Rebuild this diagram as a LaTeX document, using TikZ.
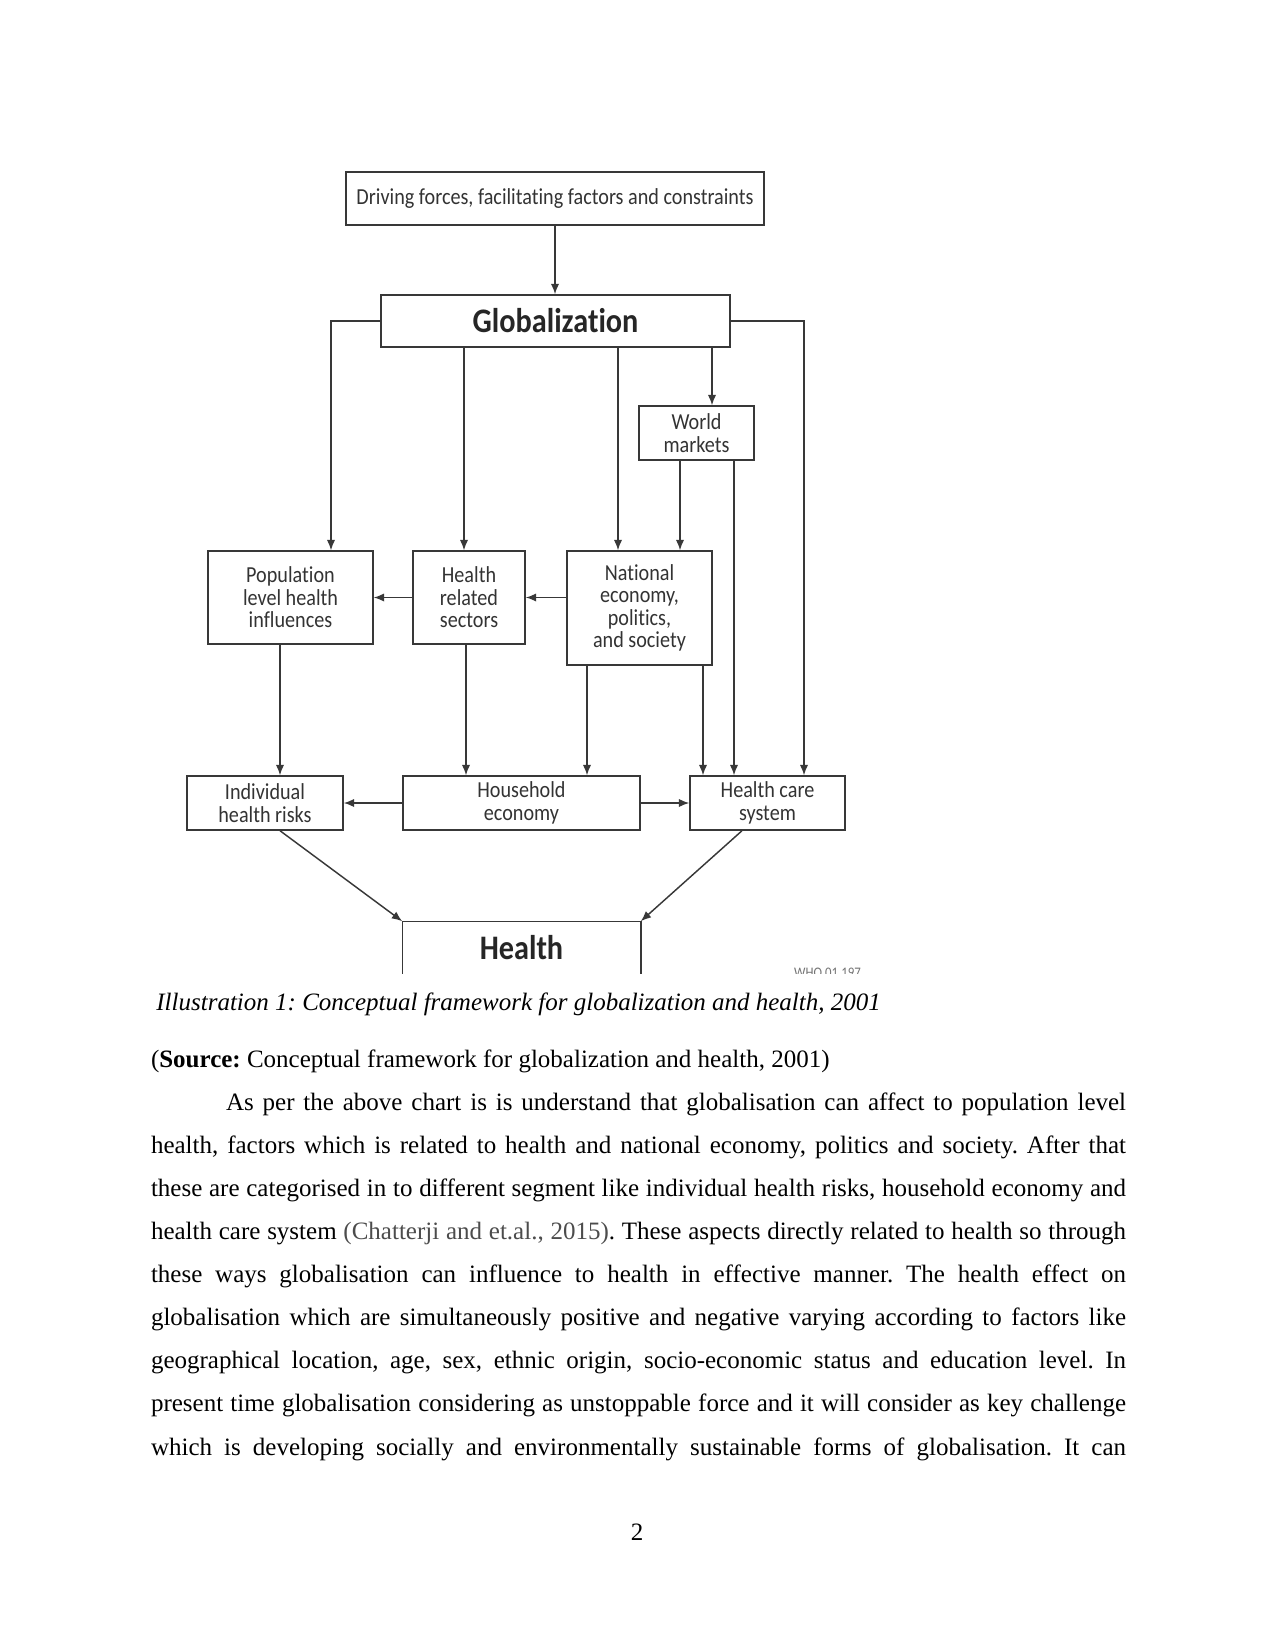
\documentclass[tikz,border=0pt]{standalone}
\usepackage{fontspec}
\setmainfont{Liberation Serif}
\newfontfamily\diagfont[FakeStretch=0.88, Ligatures=NoCommon]{Carlito}
\usetikzlibrary{arrows.meta, positioning, calc}
\definecolor{diagline}{gray}{0.22}
\definecolor{diagtext}{gray}{0.2}
\definecolor{citegray}{gray}{0.3}
\frenchspacing

\begin{document}
\begin{tikzpicture}[
  x=0.48pt, y=-0.48pt,
  box/.style={draw=diagline, line width=0.7pt, align=center, inner sep=0pt, text=diagtext, font=\diagfont\fontsize{11}{10.8}\selectfont},
  bigbox/.style={box, text=black!85, font=\diagfont\bfseries\fontsize{16.5}{18}\selectfont},
  arrow/.style={-{Latex[length=5pt,width=4pt]}, draw=diagline, line width=0.7pt},
  bodytext/.style={inner sep=0pt, anchor=base west, font=\fontsize{12}{20.7}\selectfont}
]
\useasboundingbox (0,0) rectangle (1275,1651);

% boxes of the framework
\node[box, minimum width=200.6pt, minimum height=25.4pt] (drive) at (555,198.5) {Driving forces, facilitating factors and constraints};
\node[bigbox, minimum width=167.5pt, minimum height=25pt] (glob) at (555.5,321) {Globalization};
\node[box, minimum width=55.2pt, minimum height=25.9pt] (wm) at (696.5,433) {World\\markets};
\node[box, minimum width=79.2pt, minimum height=44.6pt] (pop) at (290.5,597.5) {Population\\level health\\influences};
\node[box, minimum width=53.8pt, minimum height=44.6pt] (hrel) at (469,597.5) {Health\\related\\sectors};
\node[box, minimum width=69.6pt, minimum height=54.7pt] (nat) at (639.5,608) {National\\economy,\\politics,\\and society};
\node[box, minimum width=74.9pt, minimum height=25.9pt] (ind) at (265,803) {Individual\\health risks};
\node[box, minimum width=113.8pt, minimum height=25.9pt] (household) at (521.5,803) {Household\\economy};
\node[box, minimum width=74.4pt, minimum height=25.9pt] (hcare) at (767.5,803) {Health care\\system};
\node[bigbox, draw=none, minimum width=113.8pt, minimum height=24.5pt] (health) at (521.5,947.5) {Health};
\draw[diagline, line width=0.7pt] (health.south west) |- (health.north east) -- (health.south east);

% where the arrows land
\coordinate (popin) at ($(pop.north)+(40.5,0)$);
\coordinate (hrelin) at ($(hrel.north)+(-5,0)$);
\coordinate (natin) at ($(nat.north)+(-21.5,0)$);
\coordinate (natwm) at ($(nat.north)+(40.5,0)$);
\coordinate (wmin) at ($(wm.north)+(15.5,0)$);
\coordinate (carenat) at ($(hcare.north)+(-64.5,0)$);
\coordinate (carewm) at ($(hcare.north)+(-33.5,0)$);
\coordinate (careglob) at ($(hcare.north)+(36.5,0)$);
\coordinate (indin) at ($(ind.north)+(15,0)$);
\coordinate (hhrel) at ($(household.north)+(-55.5,0)$);
\coordinate (hhnat) at ($(household.north)+(65.5,0)$);
\coordinate (indout) at ($(ind.south)+(15,0)$);
\coordinate (careout) at ($(hcare.south)+(-25.5,0)$);

\draw[arrow] (drive.south) -- (drive.south |- glob.north);
\draw[arrow] (glob.west) -| (popin);
\draw[arrow] (glob.east) -| (careglob);
\draw[arrow] (glob.south -| hrelin) -- (hrelin);
\draw[arrow] (glob.south -| natin) -- (natin);
\draw[arrow] (glob.south -| wmin) -- (wmin);
\draw[arrow] (wm.south -| natwm) -- (natwm);
\draw[arrow] (wm.south -| carewm) -- (carewm);
\draw[arrow] (nat.west |- hrel.east) -- (hrel.east);
\draw[arrow] (hrel.west) -- (pop.east);
\draw[arrow] (pop.south -| indin) -- (indin);
\draw[arrow] (hrel.south -| hhrel) -- (hhrel);
\draw[arrow] (nat.south -| hhnat) -- (hhnat);
\draw[arrow] (nat.south -| carenat) -- (carenat);
\draw[arrow] (household.west) -- (ind.east);
\draw[arrow] (household.east) -- (hcare.west);
\draw[arrow] (indout) -- (health.north west);
\draw[arrow] (careout) -- (health.north east);

% cut-off figure code
\begin{scope}
  \clip (770,955) rectangle (890,973);
  \node[inner sep=0pt, anchor=base, text=black!55, font=\diagfont\fontsize{7}{7}\selectfont] (who) at (827.5,977.5) {WHO 01.197};
\end{scope}

% text of the page
\node[bodytext] (caption) at (156,1010) {\itshape Illustration 1: Conceptual framework for globalization and health, 2001};
\node[bodytext] (source) at (150.6,1067) {(\textbf{Source:} Conceptual framework for globalization and health, 2001)};
\node[bodytext, text width=468pt, align=justify] (para) at (150.6,1110) {\hyphenpenalty=10000
\hspace*{36pt}As per the above chart is is understand that globalisation can affect to population level\linebreak
health, factors which is related to health and national economy, politics and society. After that\linebreak
these are categorised in to different segment like individual health risks, household economy and\linebreak
health care system {\color{citegray}(Chatterji and et.al., 2015)}. These aspects directly related to health so through\linebreak
these ways globalisation can influence to health in effective manner. The health effect on\linebreak
globalisation which are simultaneously positive and negative varying according to factors like\linebreak
geographical location, age, sex, ethnic origin, socio-economic status and education level. In\linebreak
present time globalisation considering as unstoppable force and it will consider as key challenge\linebreak
\makebox[\linewidth][s]{which is developing socially and environmentally sustainable forms of globalisation. It can}};
\node[bodytext, anchor=base] (pagenum) at (637,1540) {2};
\end{tikzpicture}
\end{document}
